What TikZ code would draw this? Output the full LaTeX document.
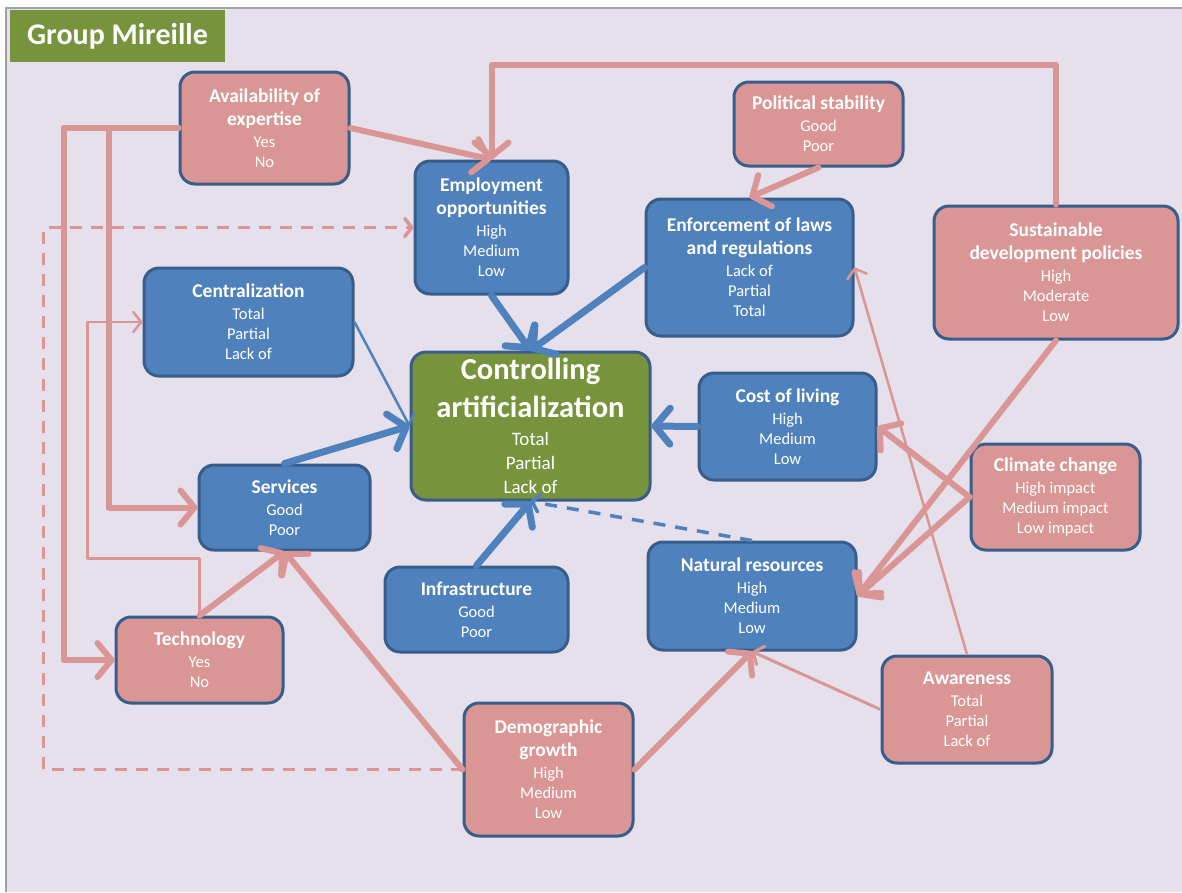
\documentclass[tikz,border=0pt]{standalone}
\usepackage{fontspec}
\setmainfont{Carlito}
\usetikzlibrary{arrows.meta}

\definecolor{rose}{HTML}{D99694}
\definecolor{steel}{HTML}{4F81BD}
\definecolor{boxedge}{HTML}{385D8A}
\definecolor{olivegreen}{HTML}{77933C}
\definecolor{paper}{HTML}{E5E0EC}
\definecolor{frame}{HTML}{A0A0A8}

% heading lines inside the boxes
\newcommand\hl[1]{{\bfseries\fontsize{19.5}{23}\selectfont #1}}
\newcommand\bighl[1]{{\bfseries\fontsize{30.5}{34}\selectfont #1}}

\tikzset{
  box/.style={draw=boxedge, line width=3pt, rounded corners=15pt, align=center,
    text=white, inner sep=2pt, font=\fontsize{16.5}{20}\selectfont},
  pinkbox/.style={box, fill=rose},
  bluebox/.style={box, fill=steel},
  pthick/.style={draw=rose, line width=6pt, line cap=round, line join=round,
    -{Straight Barb[length=14pt,width=34pt,round]}},
  pthin/.style={draw=rose, line width=2.5pt, line join=round,
    -{Straight Barb[length=8pt,width=20pt,round]}},
  pdash/.style={draw=rose, line width=3.5pt, dash pattern=on 12pt off 9pt,
    -{Straight Barb[length=7pt,width=18pt,round]}},
  bthick/.style={draw=steel, line width=7pt, line cap=round,
    -{Straight Barb[length=15pt,width=36pt,round]}},
  bthin/.style={draw=steel, line width=2.5pt,
    -{Straight Barb[length=8pt,width=20pt,round]}},
  bdash/.style={draw=steel, line width=3.5pt, dash pattern=on 12pt off 10pt,
    -{Straight Barb[length=7pt,width=18pt,round]}},
}

\begin{document}
\begin{tikzpicture}[x=1pt,y=-1pt]
\useasboundingbox (0,0) rectangle (1182,892);
\fill[white] (0,0) rectangle (1182,892);
\fill[paper] (7,9) rectangle (1182,892);
\draw[frame, line width=2pt] (6,892) -- (6,8) -- (1182,8);

% title tab
\node[fill=olivegreen, minimum width=215pt, minimum height=52pt, inner sep=0pt,
  text=white, font=\bfseries\fontsize{30}{34}\selectfont] (title) at (117.5,36) {Group Mireille};

% boxes
\node[pinkbox, minimum width=169pt, minimum height=112pt] (avail) at (264.5,128)
  {\hl{Availability of}\\[3pt]\hl{expertise}\\[2pt]Yes\\No};
\node[bluebox, minimum width=153pt, minimum height=133pt] (emp) at (491.5,227.5)
  {\hl{Employment}\\[3pt]\hl{opportunities}\\[2pt]High\\Medium\\Low};
\node[pinkbox, minimum width=169pt, minimum height=84pt] (pol) at (818.5,124)
  {\hl{Political stability}\\[2pt]Good\\Poor};
\node[bluebox, minimum width=207pt, minimum height=137pt] (enf) at (749.5,267.5)
  {\hl{Enforcement of laws}\\[3pt]\hl{and regulations}\\[2pt]Lack of\\Partial\\Total};
\node[pinkbox, minimum width=244pt, minimum height=133pt] (sus) at (1056,272.5)
  {\hl{Sustainable}\\[3pt]\hl{development policies}\\[2pt]High\\Moderate\\Low};
\node[bluebox, minimum width=209pt, minimum height=108pt] (cent) at (248.5,322)
  {\hl{Centralization}\\[2pt]Total\\Partial\\Lack of};
\node[box, fill=olivegreen, minimum width=239pt, minimum height=148pt,
  font=\fontsize{19}{24}\selectfont] (ctrl) at (530.5,426)
  {\bighl{Controlling}\\[10pt]\bighl{artificialization}\\[4pt]Total\\Partial\\Lack of};
\node[bluebox, minimum width=177pt, minimum height=107pt] (cost) at (787.5,426.5)
  {\hl{Cost of living}\\[2pt]High\\Medium\\Low};
\node[pinkbox, minimum width=169pt, minimum height=106pt] (clim) at (1055.5,497)
  {\hl{Climate change}\\[2pt]High impact\\Medium impact\\Low impact};
\node[bluebox, minimum width=171pt, minimum height=85pt] (serv) at (284.5,507.5)
  {\hl{Services}\\[2pt]Good\\Poor};
\node[bluebox, minimum width=183pt, minimum height=85pt] (infra) at (476.5,609.5)
  {\hl{Infrastructure}\\[2pt]Good\\Poor};
\node[bluebox, minimum width=208pt, minimum height=108pt] (nat) at (752,596)
  {\hl{Natural resources}\\[2pt]High\\Medium\\Low};
\node[pinkbox, minimum width=167pt, minimum height=86pt] (tech) at (199.5,660)
  {\hl{Technology}\\[2pt]Yes\\No};
\node[pinkbox, minimum width=170pt, minimum height=107pt] (aware) at (967,709.5)
  {\hl{Awareness}\\[2pt]Total\\Partial\\Lack of};
\node[pinkbox, minimum width=169pt, minimum height=133pt] (demo) at (548.5,769.5)
  {\hl{Demographic}\\[3pt]\hl{growth}\\[2pt]High\\Medium\\Low};

% influences from the pink factors
\draw[pthick] (avail.east) -- (emp.north);
\draw[pthick] (sus.north) -- ++(0,-140) -| (emp.north);
\draw[pthick] (avail.west) -- ++(-115,0) |- (tech.west);
\draw[pthick] (avail.west) -- ++(-70,0) |- (serv.west);
\draw[pdash] (demo.west) -- ++(-419,0) |- (emp.west);
\draw[pthin] (tech.north) -- ++(0,-57) -- ++(-112,0) |- (cent.west);
\draw[pthick] (tech.north) -- (serv.south);
\draw[pthick] (demo.west) -- (serv.south);
\draw[pthick] (demo.east) -- (nat.south);
\draw[pthin, line width=3pt] (aware.west) -- (nat.south);
\draw[pthin] (aware.north) -- (enf.east);
\draw[pthick] (pol.south) -- (enf.north);
\draw[pthick] (sus.south) -- (nat.east);
\draw[pthick] (clim.west) -- (cost.east);
\draw[pthick] (clim.west) -- (nat.east);

% influences on the central variable
\draw[bthick] (emp.south) -- (ctrl.north);
\draw[bthick] (enf.west) -- (ctrl.north);
\draw[bthin] (cent.east) -- (ctrl.west);
\draw[bthick] (serv.north) -- (ctrl.west);
\draw[bthick] (infra.north) -- (ctrl.south);
\draw[bdash] (nat.north) -- (ctrl.south);
\draw[bthick] (cost.west) -- (ctrl.east);
\end{tikzpicture}
\end{document}
